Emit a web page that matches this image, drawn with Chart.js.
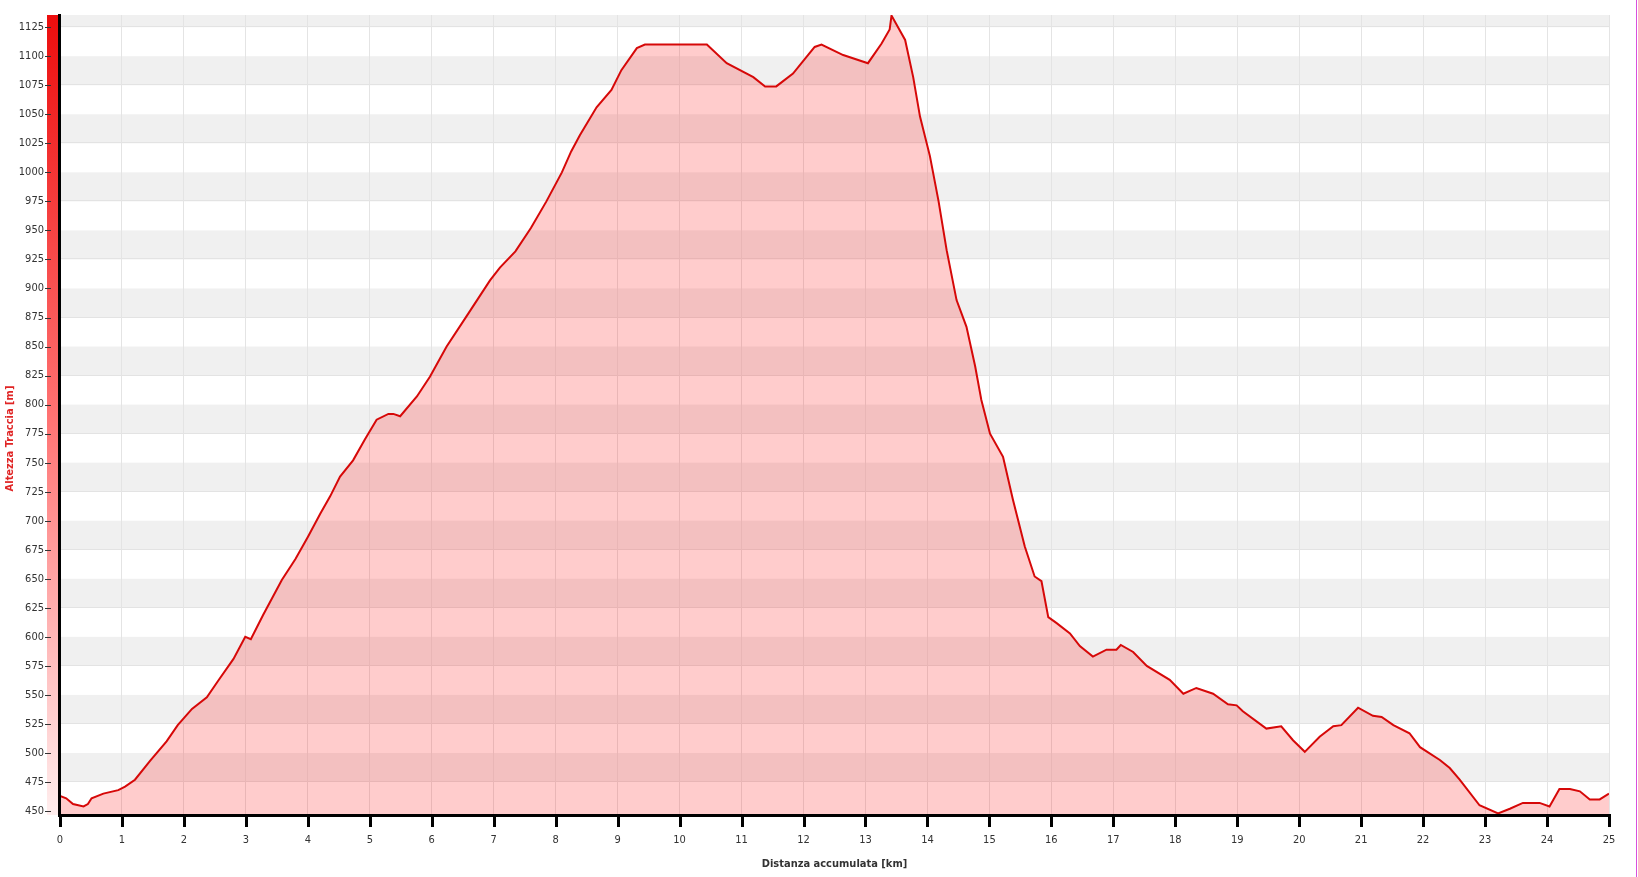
<!DOCTYPE html>
<html>
<head>
<meta charset="utf-8">
<title>Profilo altimetrico</title>
<script src="https://cdn.jsdelivr.net/npm/chart.js@4"></script>
<style>
html, body { margin: 0; padding: 0; background: #fff; }
#wrap { width: 1638px; height: 877px; }
</style>
</head>
<body>
<div id="wrap"><canvas id="profileChart" width="1638" height="877"></canvas></div>
<script>
// track profile: distance (km) and altitude (m)
const distanceKm = [0.00, 0.10, 0.21, 0.38, 0.45, 0.51, 0.70, 0.94, 1.05, 1.21, 1.45, 1.72, 1.90, 2.13, 2.37, 2.55, 2.80, 2.99, 3.08, 3.28,
    3.58, 3.80, 4.00, 4.20, 4.36, 4.52, 4.73, 4.92, 5.11, 5.30, 5.38, 5.49, 5.76, 5.97, 6.24, 6.56, 6.94, 7.10, 7.35, 7.60,
    7.85, 8.10, 8.25, 8.39, 8.66, 8.90, 9.06, 9.31, 9.44, 10.44, 10.76, 11.19, 11.38, 11.56, 11.83, 12.18, 12.29, 12.64, 13.04, 13.26,
    13.39, 13.42, 13.64, 13.77, 13.88, 14.04, 14.18, 14.31, 14.47, 14.63, 14.77, 14.87, 15.01, 15.22, 15.38, 15.57, 15.73, 15.84, 15.95, 16.08,
    16.30, 16.46, 16.67, 16.89, 17.05, 17.12, 17.32, 17.54, 17.91, 18.13, 18.34, 18.61, 18.85, 18.99, 19.09, 19.47, 19.71, 19.90, 20.09, 20.33,
    20.55, 20.68, 20.95, 21.19, 21.33, 21.52, 21.78, 21.95, 22.27, 22.43, 22.59, 22.91, 23.21, 23.40, 23.61, 23.88, 24.04, 24.20, 24.37, 24.53,
    24.69, 24.85, 25.00];
const altitudeM = [463, 461, 456, 454, 456, 461, 465, 468, 471, 477, 493, 510, 524, 538, 548, 562, 581, 600, 598, 619,
    649, 667, 686, 706, 721, 738, 752, 770, 787, 792, 792, 790, 807, 824, 850, 876, 907, 918, 932, 952,
    975, 1000, 1018, 1032, 1056, 1071, 1088, 1107, 1110, 1110, 1094, 1082, 1074, 1074, 1085, 1108, 1110, 1101, 1094, 1111,
    1123, 1135, 1114, 1082, 1048, 1014, 975, 933, 890, 867, 833, 804, 775, 755, 718, 678, 652, 648, 617, 612,
    603, 592, 583, 589, 589, 593, 587, 575, 563, 551, 556, 551, 542, 541, 536, 521, 523, 511, 501, 514,
    523, 524, 539, 532, 531, 524, 517, 505, 494, 487, 477, 455, 448, 452, 457, 457, 454, 469, 469, 467,
    460, 460, 465];

// y tick labels 450 .. 1125
const yTickValues = [450, 475, 500, 525, 550, 575, 600, 625, 650, 675, 700, 725, 750, 775, 800, 825, 850, 875, 900,
    925, 950, 975, 1000, 1025, 1050, 1075, 1100, 1125];

const xTitle = 'Distanza accumulata [km]';
const yTitle = 'Altezza Traccia [m]';
const yMin = 446.6, yMax = 1135.5, yStep = 25;

Chart.defaults.font.family = "'DejaVu Sans Condensed', 'DejaVu Sans', sans-serif";
Chart.defaults.font.size = 11;
Chart.defaults.color = '#333';

// bands, colour bar, heavy axes and titles drawn around the chart area
const decorPlugin = {
    id: 'decor',
    beforeDraw(chart) {
        const { ctx, chartArea: a, scales: { y } } = chart;
        ctx.save();
        ctx.fillStyle = '#fff';
        ctx.fillRect(0, 0, chart.width, chart.height);
        yTickValues.forEach((v, i) => {
            if (i % 2 === 0) return;
            const top = Math.max(y.getPixelForValue(v + yStep), a.top);
            const bot = y.getPixelForValue(v);
            ctx.fillStyle = '#f0f0f0';
            ctx.fillRect(a.left, top, a.right - a.left, bot - top);
            ctx.fillStyle = '#e3e3e3';
            ctx.fillRect(a.left, Math.round(bot) - 1, a.right - a.left, 1);
        });
        ctx.restore();
    },
    afterDraw(chart) {
        const { ctx, chartArea: a, scales: { x, y } } = chart;
        ctx.save();

        // altitude colour bar left of the y axis
        const g = ctx.createLinearGradient(0, a.top, 0, a.bottom);
        g.addColorStop(0, '#ec0d0d');
        g.addColorStop(0.5, '#ff7272');
        g.addColorStop(1, '#ffeeee');
        ctx.fillStyle = g;
        ctx.fillRect(a.left - 13, a.top, 11, a.bottom - a.top);

        // y tick marks
        ctx.fillStyle = '#333';
        y.ticks.forEach(t => {
            const py = Math.round(y.getPixelForValue(t.value));
            ctx.fillRect(a.left - 15, py, 6, 1);
        });

        // heavy axes
        ctx.fillStyle = '#000';
        ctx.fillRect(a.left - 2, a.top - 1, 3, a.bottom - a.top + 3);
        ctx.fillRect(a.left - 2, a.bottom - 1, a.right - a.left + 4, 3);
        x.ticks.forEach(t => {
            const px = x.getPixelForValue(t.value);
            ctx.fillRect(Math.round(px) - 1, a.bottom, 3, 12);
        });

        // axis titles
        ctx.font = "bold 11px 'DejaVu Sans Condensed', 'DejaVu Sans', sans-serif";
        ctx.textAlign = 'center';
        ctx.textBaseline = 'middle';
        ctx.fillStyle = '#333';
        ctx.fillText(xTitle, (a.left + a.right) / 2, 864);
        ctx.translate(10, chart.height / 2);
        ctx.rotate(-Math.PI / 2);
        ctx.fillStyle = '#e02525';
        ctx.fillText(yTitle, 0, 0);
        ctx.restore();

        // frame edge on the right
        ctx.save();
        ctx.fillStyle = '#d94fdc';
        ctx.fillRect(chart.width - 2, 0, 1, chart.height);
        ctx.restore();
    }
};

const points = distanceKm.map((d, i) => ({ x: d, y: altitudeM[i] }));

const ctx = document.getElementById('profileChart').getContext('2d');
const profileChart = new Chart(ctx, {
    type: 'line',
    data: {
        datasets: [{
            label: yTitle,
            data: points,
            borderColor: 'rgb(214, 8, 8)',
            backgroundColor: 'rgba(255, 0, 0, 0.2)',
            borderWidth: 2,
            pointRadius: 0,
            tension: 0,
            fill: 'start'
        }]
    },
    options: {
        responsive: false,
        animation: false,
        layout: { padding: { top: 15, right: 29, left: 0, bottom: 0 } },
        scales: {
            x: {
                type: 'linear',
                min: 0,
                max: 25,
                ticks: { stepSize: 1, padding: 19, maxRotation: 0, autoSkip: false },
                grid: { color: '#e4e4e4', drawTicks: false },
                border: { display: false },
                afterFit: axis => { axis.height = 62; axis.paddingLeft = 0; axis.paddingRight = 0; }
            },
            y: {
                min: yMin,
                max: yMax,
                ticks: { padding: 16, autoSkip: false, callback: v => String(v) },
                grid: { display: false, drawTicks: false },
                border: { display: false },
                afterBuildTicks: axis => {
                    axis.ticks = yTickValues.map(v => ({ value: v }));
                },
                afterFit: axis => { axis.width = 60; axis.paddingTop = 0; axis.paddingBottom = 0; }
            }
        },
        plugins: {
            legend: { display: false },
            tooltip: { enabled: false }
        }
    },
    plugins: [decorPlugin]
});
</script>
</body>
</html>
